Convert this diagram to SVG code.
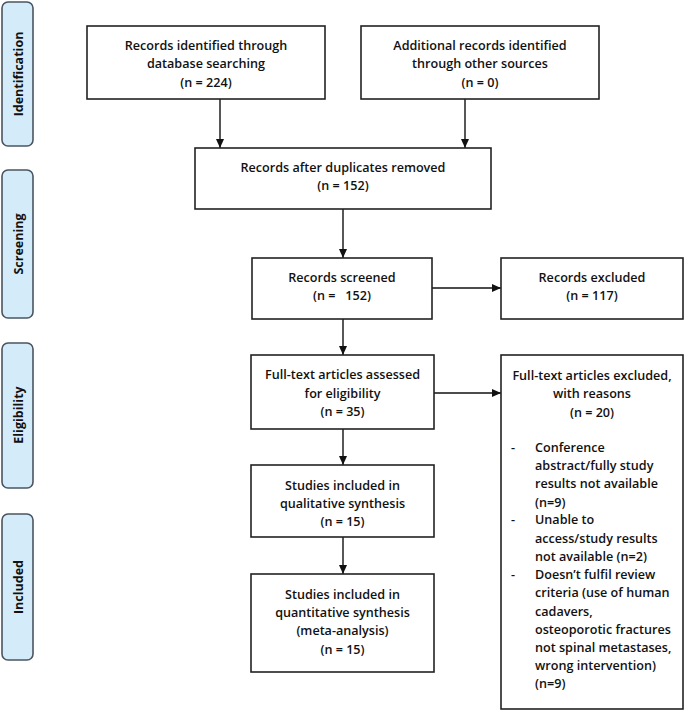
<svg xmlns="http://www.w3.org/2000/svg" width="685" height="711" viewBox="0 0 685 711">
<style>
.box{fill:#fff;stroke:#222;stroke-width:1.6}
.side{fill:#d4ecfa;stroke:#4a5560;stroke-width:1.6}
text{font-family:"Open Sans","Liberation Sans",sans-serif;font-size:12.6px;font-weight:600;fill:#111}
.c{text-anchor:middle}
.st{font-size:12.5px;font-weight:700}
.ln{stroke:#111;stroke-width:1.4;fill:none}
</style>
<defs>
<marker id="ah" markerWidth="10" markerHeight="10" refX="9" refY="5" orient="auto" markerUnits="userSpaceOnUse">
<path d="M0,1 L9,5 L0,9 Z" fill="#111"/>
</marker>
</defs>
<rect width="685" height="711" fill="#fff"/>
<g id="stage-identification"><rect class="side" x="2" y="2" width="31" height="144" rx="6"/><text class="c st" transform="translate(22.5,74) rotate(-90)">Identification</text></g>
<g id="stage-screening"><rect class="side" x="2" y="170" width="31" height="148" rx="6"/><text class="c st" transform="translate(22.5,244) rotate(-90)">Screening</text></g>
<g id="stage-eligibility"><rect class="side" x="2" y="343" width="31" height="145" rx="6"/><text class="c st" transform="translate(22.5,415) rotate(-90)">Eligibility</text></g>
<g id="stage-included"><rect class="side" x="2" y="514" width="31" height="146" rx="6"/><text class="c st" transform="translate(22.5,587) rotate(-90)">Included</text></g>

<g id="connectors">
<line class="ln" x1="220" y1="99" x2="220" y2="148" marker-end="url(#ah)"/>
<line class="ln" x1="465" y1="99" x2="465" y2="148" marker-end="url(#ah)"/>
<line class="ln" x1="343" y1="209" x2="343" y2="258" marker-end="url(#ah)"/>
<line class="ln" x1="343" y1="319" x2="343" y2="355" marker-end="url(#ah)"/>
<line class="ln" x1="343" y1="429" x2="343" y2="465" marker-end="url(#ah)"/>
<line class="ln" x1="343" y1="537" x2="343" y2="574" marker-end="url(#ah)"/>
<line class="ln" x1="432" y1="288" x2="501" y2="288" marker-end="url(#ah)"/>
<line class="ln" x1="434" y1="393" x2="501" y2="393" marker-end="url(#ah)"/>
</g>

<g id="n-database"><rect class="box" x="87" y="26" width="238" height="73"/>
<text class="c" x="206" y="50">Records identified through</text>
<text class="c" x="206" y="68">database searching</text>
<text class="c" x="206" y="87">(n = 224)</text></g>

<g id="n-other"><rect class="box" x="361" y="26" width="238" height="73"/>
<text class="c" x="480" y="50">Additional records identified</text>
<text class="c" x="480" y="68">through other sources</text>
<text class="c" x="480" y="87">(n = 0)</text></g>

<g id="n-dedup"><rect class="box" x="195" y="148" width="296" height="61"/>
<text class="c" x="343" y="172">Records after duplicates removed</text>
<text class="c" x="343" y="190">(n = 152)</text></g>

<g id="n-screened"><rect class="box" x="252" y="258" width="180" height="61"/>
<text class="c" x="342" y="282">Records screened</text>
<text class="c" x="342" y="300" xml:space="preserve">(n =   152)</text></g>

<g id="n-excluded"><rect class="box" x="501" y="258" width="182" height="61"/>
<text class="c" x="592" y="282">Records excluded</text>
<text class="c" x="592" y="300">(n = 117)</text></g>

<g id="n-fulltext"><rect class="box" x="251" y="355" width="183" height="74"/>
<text class="c" x="342.5" y="379">Full-text articles assessed</text>
<text class="c" x="342.5" y="398">for eligibility</text>
<text class="c" x="342.5" y="416">(n = 35)</text></g>

<g id="n-ftexcluded"><rect class="box" x="501" y="355" width="182" height="354"/>
<text class="c" x="592" y="380">Full-text articles excluded,</text>
<text class="c" x="592" y="398">with reasons</text>
<text class="c" x="592" y="417">(n = 20)</text>
<text x="511" y="452">-</text>
<text x="535" y="452">Conference</text>
<text x="535" y="470">abstract/fully study</text>
<text x="535" y="488">results not available</text>
<text x="535" y="507">(n=9)</text>
<text x="511" y="524">-</text>
<text x="535" y="524">Unable to</text>
<text x="535" y="543">access/study results</text>
<text x="535" y="561">not available (n=2)</text>
<text x="511" y="579">-</text>
<text x="535" y="579">Doesn’t fulfil review</text>
<text x="535" y="597">criteria (use of human</text>
<text x="535" y="616">cadavers,</text>
<text x="535" y="634">osteoporotic fractures</text>
<text x="535" y="652">not spinal metastases,</text>
<text x="535" y="670">wrong intervention)</text>
<text x="535" y="688">(n=9)</text></g>

<g id="n-qualitative"><rect class="box" x="251" y="465" width="183" height="72"/>
<text class="c" x="342.5" y="490">Studies included in</text>
<text class="c" x="342.5" y="508">qualitative synthesis</text>
<text class="c" x="342.5" y="526">(n = 15)</text></g>

<g id="n-quantitative"><rect class="box" x="251" y="574" width="183" height="98"/>
<text class="c" x="342.5" y="599">Studies included in</text>
<text class="c" x="342.5" y="617">quantitative synthesis</text>
<text class="c" x="342.5" y="635">(meta-analysis)</text>
<text class="c" x="342.5" y="654">(n = 15)</text></g>
</svg>
